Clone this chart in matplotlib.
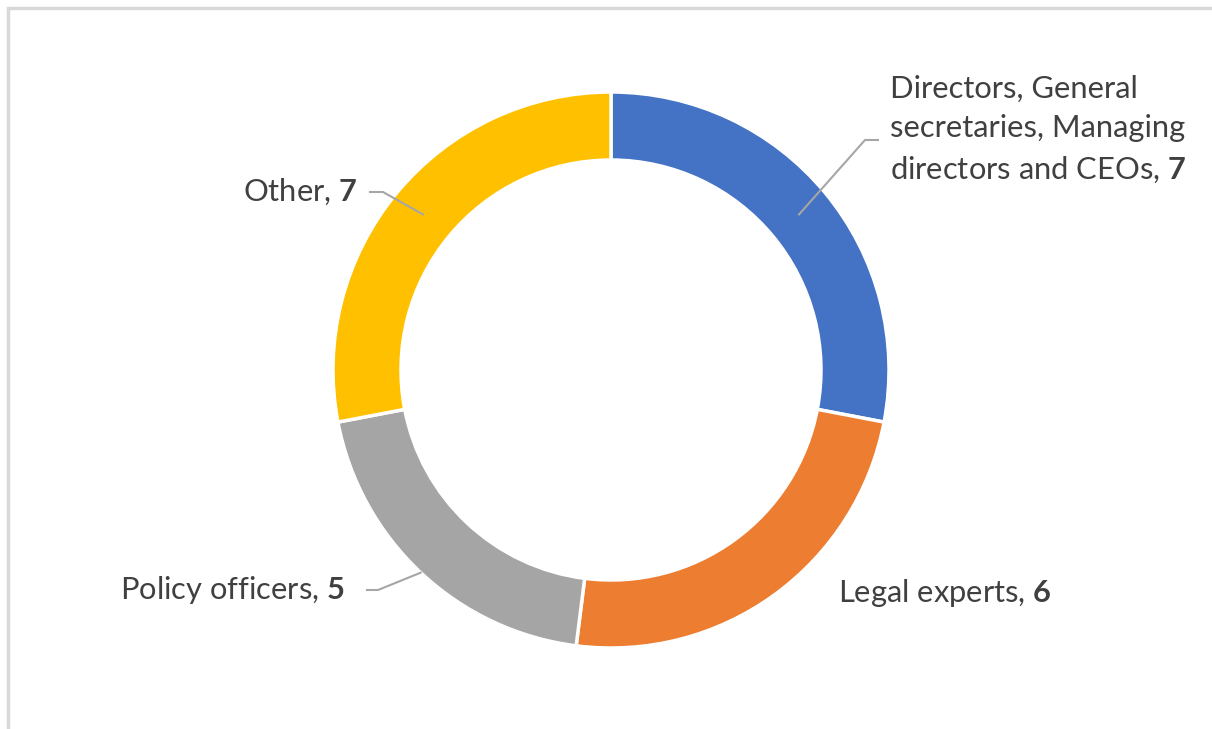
import numpy as np
import matplotlib
matplotlib.use("Agg")
import matplotlib.pyplot as plt
from matplotlib.patches import Rectangle

categories = ["Directors, General\nsecretaries, Managing\ndirectors and CEOs",
              "Legal experts", "Policy officers", "Other"]
values = [7, 6, 5, 7]
colors = ["#4472C4", "#ED7D31", "#A5A5A5", "#FFC000"]

FONT = "Lato"
plt.rcParams['font.family'] = [FONT, 'DejaVu Sans']
plt.rcParams['mathtext.fontset'] = 'custom'
plt.rcParams['mathtext.rm'] = FONT
plt.rcParams['mathtext.bf'] = FONT + ':bold'

W, H = 1212, 729
fig = plt.figure(figsize=(W / 100, H / 100), dpi=100)
ax = fig.add_axes([0, 0, 1, 1])

cx, cy = 611, H - 370
R = 278
ring = 68
wedges, _ = ax.pie(values, colors=colors, startangle=90, counterclock=False,
                   radius=R, center=(cx, cy), frame=True,
                   wedgeprops=dict(width=ring, edgecolor='white', linewidth=2.5))
ax.set_xlim(0, W)
ax.set_ylim(0, H)
ax.set_aspect('equal')
ax.axis('off')

txtc = '#404040'
linec = '#A6A6A6'
fs = 22.2

def anchor(w, r):
    a = np.deg2rad((w.theta1 + w.theta2) / 2)
    return cx + r * np.cos(a), cy + r * np.sin(a)

# Directors
ax0, ay0 = anchor(wedges[0], R - ring / 2)
ax.plot([ax0, 865, 878], [ay0, H - 140, H - 140], color=linec, lw=1.5)
ax.text(890, H - 130, categories[0] + ", $\\mathbf{%d}$" % values[0], ha='left', va='center',
        fontsize=fs, color=txtc, linespacing=1.5)

# Legal experts (no leader)
ax.text(838, H - 593, categories[1] + ", $\\mathbf{%d}$" % values[1], ha='left', va='center',
        fontsize=fs, color=txtc)

# Policy officers
px, py = anchor(wedges[2], R)
ax.plot([367, 378, px], [H - 590, H - 590, py], color=linec, lw=1.5)
ax.text(345, H - 590, categories[2] + ", $\\mathbf{%d}$" % values[2], ha='right', va='center',
        fontsize=fs, color=txtc)

# Other
ox, oy = anchor(wedges[3], R - ring / 2)
ax.plot([370, 383, ox], [H - 192, H - 192, oy], color=linec, lw=1.5)
ax.text(357, H - 192, categories[3] + ", $\\mathbf{%d}$" % values[3], ha='right', va='center',
        fontsize=fs, color=txtc)

# outer frame
fig.patches.append(Rectangle((8 / W, -0.01), 1.1, 1 - 8 / H + 0.01, transform=fig.transFigure,
                             fill=False, edgecolor='#D9D9D9', lw=2.5))

fig.savefig('out.png', dpi=100, facecolor='white')
